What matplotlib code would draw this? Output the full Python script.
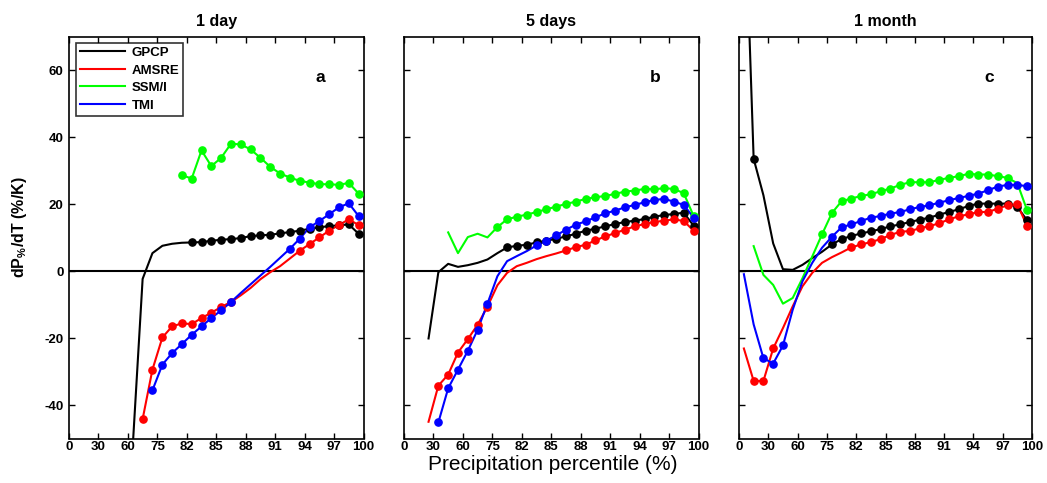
import numpy as np
import matplotlib
matplotlib.use("Agg")
import matplotlib.pyplot as plt

nan = np.nan

# x-axis tick values (non-linear, equally spaced on the axis)
TICK_VALS = [0, 30, 60, 75, 82, 85, 88, 91, 94, 97, 100]
TICK_LABELS = ["0", "30", "60", "75", "82", "85", "88", "91", "94", "97", "100"]

# bin centres (precipitation percentile, %)
PCT = [5, 15, 25, 35, 45, 55, 62.5, 67.5, 72.5, 76.2, 78.5, 80.8,
       82.5, 83.5, 84.5, 85.5, 86.5, 87.5, 88.5, 89.5, 90.5, 91.5,
       92.5, 93.5, 94.5, 95.5, 96.5, 97.5, 98.5, 99.5]

TITLES = ["1 day", "5 days", "1 month"]
PANEL_LETTERS = ["a", "b", "c"]
SERIES = ["GPCP", "AMSRE", "SSM/I", "TMI"]
COLORS = {"GPCP": "#000000", "AMSRE": "#ff0000", "SSM/I": "#00ff00", "TMI": "#0000ff"}

# ---------------- 1 day ----------------
D1_GPCP = [nan]*6 + [-52, -2.3, 5.4, 7.6, 8.2, 8.5,
           8.6, 8.7, 9.1, 9.4, 9.6, 9.9, 10.5, 10.7, 10.9, 11.3, 11.7,
           12.1, 12.7, 13.1, 13.5, 13.7, 14.0, 11.2]
D1_GPCP_SIG = [0]*12 + [1]*18
D1_AMSRE = [nan]*7 + [-44.2, -29.4, -19.8, -16.5, -15.6, -15.8, -14.0, -12.4,
            -10.7, -9.2, -7.2, -5.0, -2.4, -0.3, 1.5, 3.8,
            6.1, 8.1, 10.1, 12.1, 13.8, 15.5, 13.8]
D1_AMSRE_SIG = [0]*7 + [1]*10 + [0]*6 + [1]*7
D1_SSMI = [nan]*11 + [28.7, 27.7, 36.1, 31.4, 33.9, 38.1, 37.9, 36.4, 33.9,
           31.2, 29.2, 28.0, 27.0, 26.5, 26.0, 26.0, 25.8, 26.4, 23.2]
D1_SSMI_SIG = [0]*11 + [1]*19
D1_TMI = [nan]*8 + [-35.6, -27.9, -24.5, -21.8, -19.0, -16.5, -14.0, -11.7,
          -9.2, -6.5, -3.9, -1.3, 1.3, 4.0, 6.7,
          9.7, 13.1, 15.0, 17.0, 19.1, 20.3, 16.5]
D1_TMI_SIG = [0]*8 + [1]*9 + [0]*5 + [1]*8

# ---------------- 5 days ----------------
D5_GPCP = [nan]*2 + [-20.1, -0.3, 2.2, 1.3, 1.8, 2.5, 3.5, 5.4,
           7.1, 7.6, 7.9, 8.6, 9.1, 9.7, 10.4, 11.2, 12.1, 12.7, 13.4,
           14.1, 14.7, 15.1, 15.6, 16.3, 16.8, 17.1, 17.5, 13.6]
D5_GPCP_SIG = [0]*10 + [1]*20
D5_AMSRE = [nan]*2 + [-45.0, -34.2, -30.9, -24.3, -20.3, -16.0, -10.6,
            -4.2, -0.5, 1.5, 2.5, 3.6, 4.5, 5.3,
            6.2, 7.2, 7.9, 9.2, 10.4, 11.4, 12.4, 13.4, 14.1, 14.7,
            15.1, 15.5, 15.0, 12.1]
D5_AMSRE_SIG = [0]*3 + [1]*6 + [0]*7 + [1]*14
D5_SSMI = [nan]*4 + [11.6, 5.4, 10.2, 11.2, 10.1,
           13.2, 15.5, 16.3, 16.9, 17.7, 18.5, 19.3, 20.1, 20.8, 21.6,
           22.1, 22.5, 23.1, 23.8, 24.1, 24.6, 24.5, 24.8, 24.6, 23.3, 16.5]
D5_SSMI_SIG = [0]*9 + [1]*21
D5_TMI = [nan]*3 + [-45.2, -35.0, -29.4, -23.8, -17.5, -9.7,
          -1.5, 3.0, 4.5, 6.0,
          7.7, 9.1, 10.7, 12.4, 13.9, 14.9, 16.1, 17.3, 18.1, 19.1,
          19.8, 20.6, 21.3, 21.6, 20.8, 19.8, 16.0]
D5_TMI_SIG = [0]*3 + [1]*6 + [0]*4 + [1]*17

# ---------------- 1 month ----------------
M1_GPCP = [120, 33.6, 22.7, 8.3, 0.6, 0.4, 1.9, 3.9, 5.8,
           8.0, 9.6, 10.5, 11.3, 11.9, 12.6, 13.4, 14.0, 14.7, 15.4,
           16.0, 16.9, 17.7, 18.5, 19.5, 20.2, 20.2, 20.2, 20.2, 19.2, 15.2]
M1_GPCP_SIG = [0, 1] + [0]*7 + [1]*21
M1_AMSRE = [-23.1, -32.8, -32.8, -23.1, -17.0, -10.5, -4.5, -0.5, 2.5,
            4.2, 5.6,
            7.1, 8.0, 8.7, 9.6, 10.8, 11.8, 12.0, 12.8, 13.5, 14.3,
            15.5, 16.4, 17.0, 17.7, 17.7, 18.7, 19.7, 20.0, 13.5]
M1_AMSRE_SIG = [0] + [1]*3 + [0]*7 + [1]*19
M1_SSMI = [nan, 7.5, -1.1, -4.1, -9.7, -8.0, -2.1, 4.4,
           11.0, 17.4, 20.9, 21.7, 22.5, 23.0, 23.9, 24.7, 25.8, 26.6,
           26.6, 26.6, 27.3, 27.9, 28.4, 29.1, 28.9, 28.9, 28.4, 27.9,
           26.3, 18.2]
M1_SSMI_SIG = [0]*8 + [1]*20 + [0, 1]
M1_TMI = [-0.9, -15.9, -26.0, -27.6, -22.2, -11.5, -3.0, 2.5, 7.0,
          10.3, 13.1, 14.0, 15.0, 16.0, 16.5, 17.2, 17.7, 18.5, 19.2,
          19.7, 20.5, 21.2, 21.9, 22.5, 23.2, 24.2, 25.3, 25.8, 25.8, 25.4]
M1_TMI_SIG = [0, 0] + [1]*3 + [0]*4 + [1]*21

PANELS = [
    {"GPCP": (D1_GPCP, D1_GPCP_SIG), "AMSRE": (D1_AMSRE, D1_AMSRE_SIG),
     "SSM/I": (D1_SSMI, D1_SSMI_SIG), "TMI": (D1_TMI, D1_TMI_SIG)},
    {"GPCP": (D5_GPCP, D5_GPCP_SIG), "AMSRE": (D5_AMSRE, D5_AMSRE_SIG),
     "SSM/I": (D5_SSMI, D5_SSMI_SIG), "TMI": (D5_TMI, D5_TMI_SIG)},
    {"GPCP": (M1_GPCP, M1_GPCP_SIG), "AMSRE": (M1_AMSRE, M1_AMSRE_SIG),
     "SSM/I": (M1_SSMI, M1_SSMI_SIG), "TMI": (M1_TMI, M1_TMI_SIG)},
]

plt.rcParams['font.family'] = ['Liberation Sans', 'DejaVu Sans']
plt.rcParams['axes.unicode_minus'] = False
plt.rcParams['mathtext.fontset'] = 'custom'
plt.rcParams['mathtext.rm'] = 'Liberation Sans:bold'
plt.rcParams['mathtext.it'] = 'Liberation Sans:bold'
plt.rcParams['mathtext.bf'] = 'Liberation Sans:bold'

TICK_POS = np.arange(len(TICK_VALS), dtype=float)
def fwd(x):
    return np.interp(x, TICK_VALS, TICK_POS)
def inv(y):
    return np.interp(y, TICK_POS, TICK_VALS)

W, H = 1047, 483
fig = plt.figure(figsize=(W / 100, H / 100), dpi=100)
lefts = [69, 404, 739]
widths = [294.5, 294.5, 293]
bottom_px, top_px = 438.5, 37

x = np.array(PCT)
axes = []
for i in range(3):
    ax = fig.add_axes([lefts[i] / W, 1 - bottom_px / H, widths[i] / W, (bottom_px - top_px) / H])
    axes.append(ax)
    ax.set_xscale('function', functions=(fwd, inv))
    ax.axhline(0, color='black', lw=1.5, zorder=1)
    for name in SERIES:
        vals, sig = PANELS[i][name]
        v = np.array(vals, dtype=float)
        s = np.array(sig, dtype=bool)
        ax.plot(x, v, color=COLORS[name], lw=1.5, label=name, zorder=2, clip_on=True)
        ax.plot(x[s], v[s], linestyle='none', marker='o', ms=5.2,
                color=COLORS[name], zorder=3, clip_on=True)
    ax.set_xlim(0, 100)
    ax.set_ylim(-50, 70)
    ax.set_xticks(TICK_VALS)
    ax.set_xticklabels(TICK_LABELS)
    ax.set_yticks([-40, -20, 0, 20, 40, 60])
    ax.tick_params(direction='in', top=True, right=True, length=4, width=1,
                   labelsize=9.5)
    ax.tick_params(axis='x', pad=2)
    ax.tick_params(axis='y', pad=4)
    for lab in ax.get_xticklabels() + ax.get_yticklabels():
        lab.set_fontweight('bold')
    if i > 0:
        ax.set_yticklabels([])
    for sp in ax.spines.values():
        sp.set_linewidth(1.2)
    ax.set_title(TITLES[i], fontsize=11.5, fontweight='bold', pad=8)
    ax.text(0.854, 0.9, PANEL_LETTERS[i], transform=ax.transAxes,
            fontsize=12.5, fontweight='bold', ha='center', va='center')

leg = axes[0].legend(loc='upper left', bbox_to_anchor=(0.015, 0.992),
                     fontsize=9.5, frameon=True, fancybox=False,
                     edgecolor='black', handlelength=3.4, handletextpad=0.5,
                     labelspacing=0.4, borderpad=0.3, borderaxespad=0.2)
leg.get_frame().set_linewidth(1.2)
for t in leg.get_texts():
    t.set_fontweight('bold')

fig.text(20 / W, 1 - 227 / H, r'dP$_{\%}$/dT (%/K)', fontsize=11.5, fontweight='bold',
         rotation=90, ha='center', va='center')
fig.text(553 / W, 1 - 470 / H, 'Precipitation percentile (%)', fontsize=15,
         ha='center', va='baseline')

fig.savefig('out.png', dpi=100)
